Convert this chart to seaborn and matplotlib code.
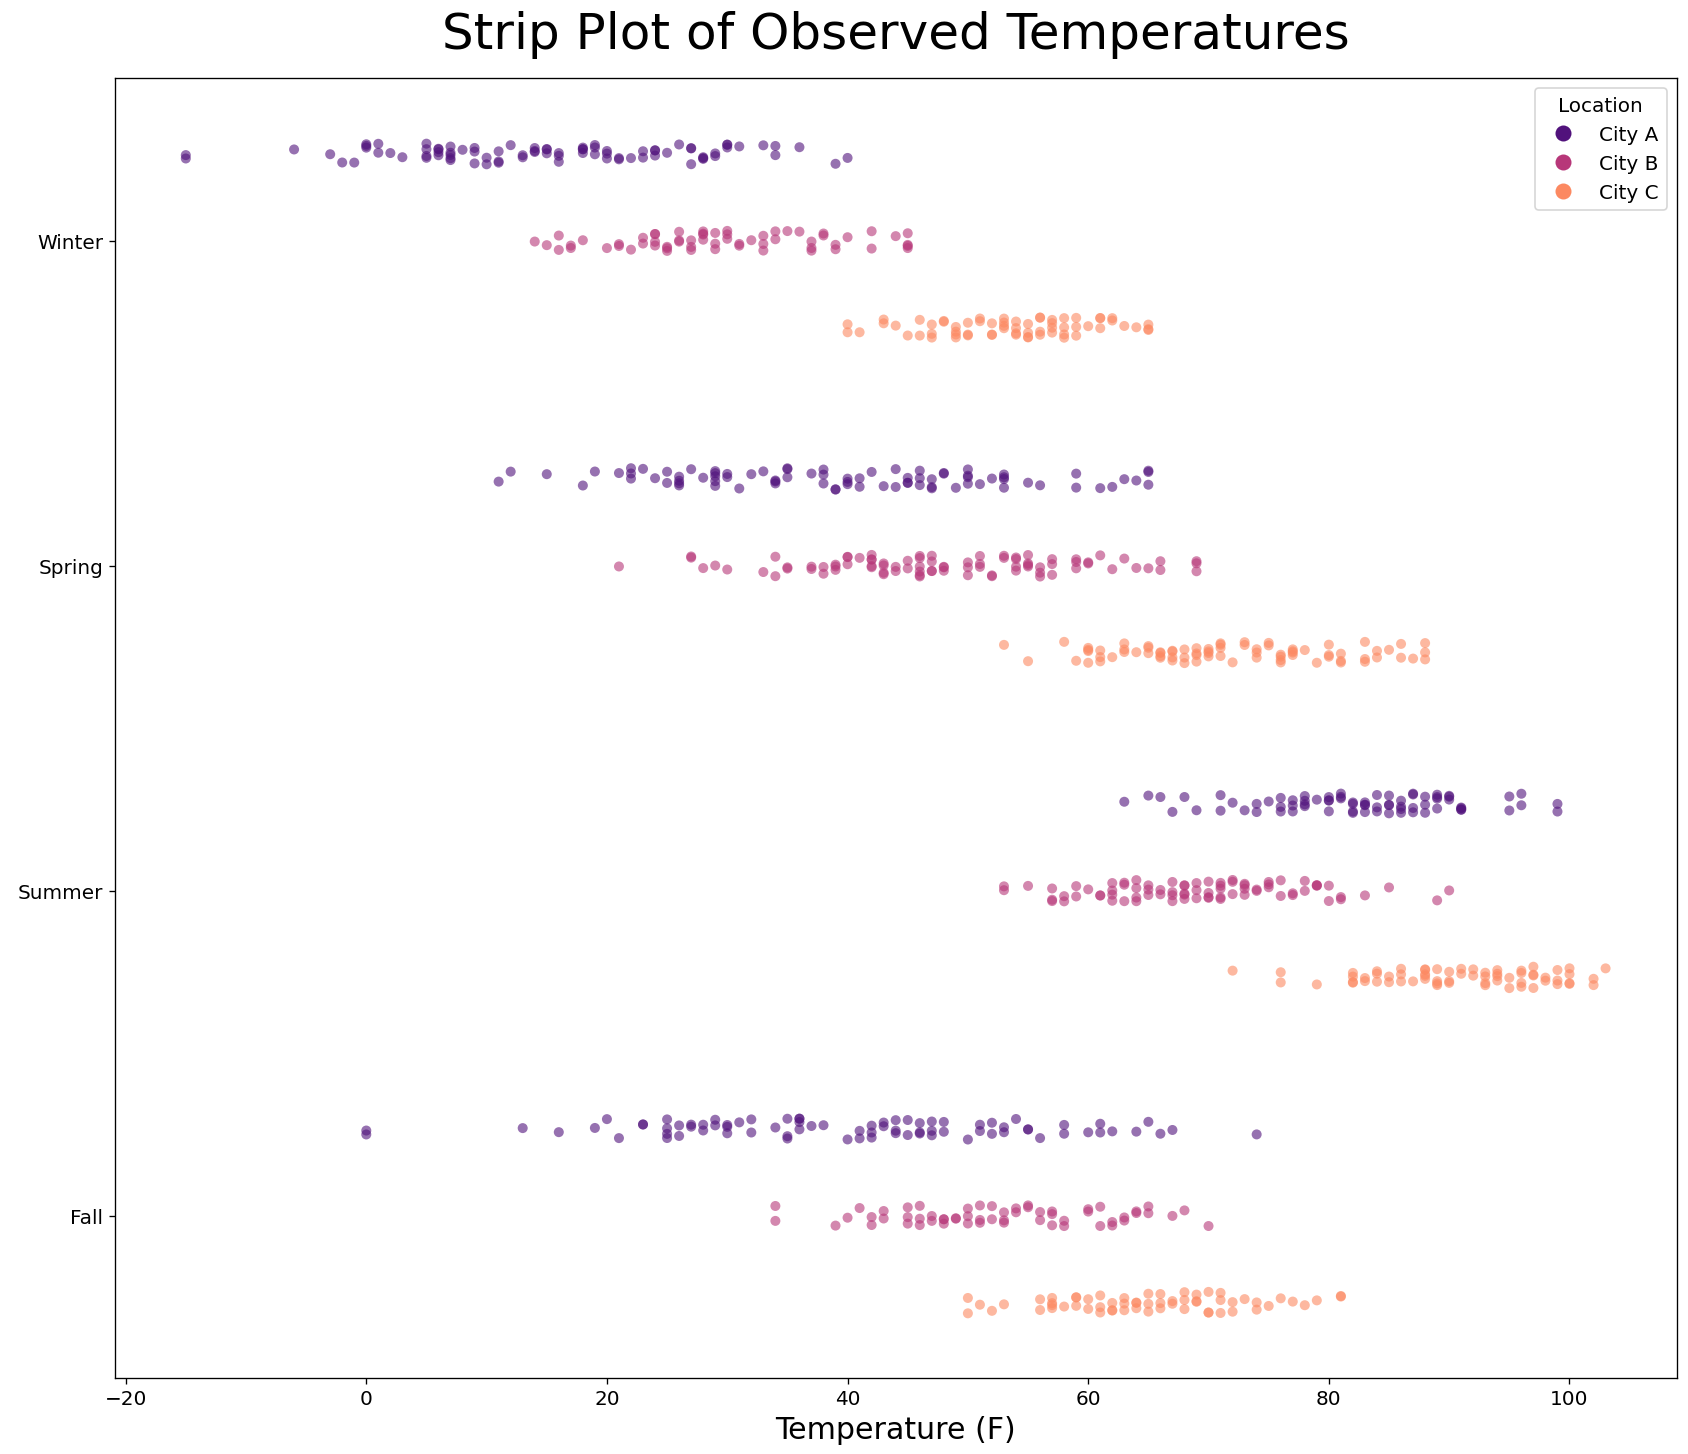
import numpy as np
import pandas as pd
import matplotlib
matplotlib.use("Agg")
import matplotlib.pyplot as plt
import seaborn as sns

seasons = ["Winter", "Spring", "Summer", "Fall"]
cities = ["City A", "City B", "City C"]

winter_a = [-15, -15, -6, -3, -2, -1, 0, 0, 0, 1, 1, 2, 3, 5, 5, 5, 5, 6, 6, 6, 6, 7, 7, 7, 7, 7, 8,
            9, 9, 9, 10, 10, 11, 11, 11, 12, 13, 13, 14, 14, 14, 15, 15, 15, 16, 16, 16, 18, 18, 18, 18,
            19, 19, 19, 20, 20, 20, 21, 21, 22, 23, 23, 24, 24, 24, 25, 26, 27, 27, 27, 28, 28, 28, 29,
            29, 30, 30, 30, 31, 33, 34, 34, 36, 39, 40]
winter_b = [14, 15, 16, 16, 17, 17, 18, 20, 21, 21, 22, 23, 23, 24, 24, 24, 24, 25, 25, 25, 26, 26, 26,
            27, 27, 27, 28, 28, 28, 28, 29, 29, 29, 30, 30, 30, 31, 31, 32, 33, 33, 33, 34, 34, 35, 36,
            37, 37, 37, 38, 38, 39, 39, 40, 42, 42, 44, 45, 45, 45, 45]
winter_c = [40, 40, 41, 43, 43, 44, 45, 46, 46, 47, 47, 47, 48, 48, 49, 49, 49, 49, 50, 50, 50, 51, 51,
            52, 52, 52, 53, 53, 53, 53, 54, 54, 54, 54, 55, 55, 55, 55, 56, 56, 56, 56, 57, 57, 57, 57,
            58, 58, 58, 58, 59, 59, 59, 60, 61, 61, 61, 62, 62, 63, 64, 65, 65, 65]
spring_a = [11, 12, 15, 18, 19, 21, 22, 22, 22, 23, 24, 25, 25, 26, 26, 26, 26, 27, 28, 29, 29, 29, 29,
            29, 30, 30, 31, 32, 33, 34, 34, 34, 35, 35, 35, 37, 38, 38, 38, 39, 39, 40, 40, 40, 41, 41,
            42, 43, 44, 44, 45, 45, 45, 46, 46, 46, 47, 47, 47, 48, 48, 49, 50, 50, 50, 50, 51, 52, 53,
            53, 53, 53, 55, 56, 59, 59, 61, 62, 63, 64, 65, 65, 65]
spring_b = [21, 27, 27, 28, 29, 30, 33, 34, 34, 35, 35, 37, 37, 38, 38, 39, 39, 39, 40, 40, 40, 41, 42,
            42, 42, 42, 42, 43, 43, 43, 43, 44, 44, 45, 45, 46, 46, 46, 46, 46, 46, 47, 47, 47, 47, 48,
            48, 48, 50, 50, 50, 51, 51, 51, 52, 52, 53, 53, 54, 54, 54, 54, 55, 55, 55, 55, 56, 56, 56,
            57, 57, 57, 59, 59, 59, 60, 60, 61, 62, 63, 64, 65, 66, 66, 69, 69, 69]
spring_c = [53, 55, 58, 59, 60, 60, 60, 60, 61, 61, 61, 62, 63, 63, 63, 64, 65, 65, 65, 66, 66, 66, 66,
            67, 67, 67, 67, 68, 68, 68, 69, 69, 69, 69, 70, 70, 70, 70, 71, 71, 71, 71, 72, 73, 73, 74,
            74, 74, 75, 75, 76, 76, 76, 76, 77, 77, 77, 77, 78, 79, 80, 80, 80, 81, 81, 81, 83, 83, 83,
            84, 84, 85, 86, 86, 87, 88, 88, 88]
summer_a = [63, 65, 66, 67, 68, 69, 71, 71, 72, 73, 74, 74, 75, 76, 76, 76, 77, 77, 77, 78, 78, 78, 78,
            79, 80, 80, 80, 80, 81, 81, 81, 82, 82, 82, 82, 83, 83, 83, 83, 84, 84, 84, 85, 85, 85, 85,
            86, 86, 86, 86, 87, 87, 87, 87, 88, 88, 88, 89, 89, 89, 89, 90, 90, 90, 91, 91, 91, 91, 95,
            95, 96, 96, 99, 99]
summer_b = [53, 53, 55, 57, 57, 57, 58, 58, 59, 59, 60, 61, 61, 62, 62, 62, 62, 63, 63, 63, 64, 64, 64,
            64, 65, 65, 65, 66, 66, 67, 67, 67, 67, 68, 68, 68, 68, 68, 69, 69, 69, 70, 70, 70, 70, 71,
            71, 71, 71, 71, 72, 72, 72, 73, 73, 73, 73, 74, 74, 75, 75, 75, 76, 76, 77, 77, 78, 78, 79,
            79, 79, 80, 80, 81, 81, 83, 85, 89, 90]
summer_c = [72, 76, 76, 79, 82, 82, 82, 82, 83, 83, 84, 84, 84, 85, 85, 86, 86, 86, 87, 88, 88, 88, 88,
            88, 89, 89, 89, 89, 90, 90, 90, 91, 91, 92, 92, 93, 93, 93, 93, 94, 94, 94, 94, 95, 95, 96,
            96, 96, 96, 97, 97, 97, 97, 98, 98, 99, 99, 99, 100, 100, 100, 100, 102, 102, 103]
fall_a = [0, 0, 13, 16, 19, 20, 21, 23, 23, 25, 25, 25, 25, 26, 26, 27, 27, 28, 28, 29, 29, 30, 30, 30,
          31, 32, 32, 34, 35, 35, 35, 36, 36, 36, 36, 37, 38, 40, 41, 41, 42, 42, 42, 43, 43, 44, 44, 44,
          45, 45, 46, 46, 46, 47, 47, 47, 48, 48, 50, 51, 51, 52, 52, 53, 53, 54, 55, 55, 56, 58, 58,
          60, 61, 61, 62, 64, 65, 66, 67, 74]
fall_b = [34, 34, 39, 40, 41, 42, 42, 43, 43, 45, 45, 45, 46, 46, 46, 47, 47, 48, 48, 48, 49, 49, 50,
          50, 50, 51, 51, 51, 52, 52, 53, 53, 53, 54, 54, 55, 55, 56, 56, 57, 57, 57, 58, 58, 60, 60,
          61, 61, 62, 62, 63, 63, 64, 64, 65, 65, 67, 68, 70]
fall_c = [50, 50, 51, 52, 53, 56, 56, 57, 57, 57, 57, 58, 59, 59, 59, 60, 60, 61, 61, 61, 62, 62, 62,
          63, 63, 63, 64, 64, 64, 65, 65, 65, 66, 66, 66, 67, 67, 68, 68, 68, 69, 69, 69, 70, 70, 70,
          71, 71, 71, 72, 72, 73, 74, 74, 75, 76, 77, 78, 79, 81, 81]

groups = {
    ("Winter", "City A"): winter_a, ("Winter", "City B"): winter_b, ("Winter", "City C"): winter_c,
    ("Spring", "City A"): spring_a, ("Spring", "City B"): spring_b, ("Spring", "City C"): spring_c,
    ("Summer", "City A"): summer_a, ("Summer", "City B"): summer_b, ("Summer", "City C"): summer_c,
    ("Fall", "City A"): fall_a, ("Fall", "City B"): fall_b, ("Fall", "City C"): fall_c,
}
rows = []
for (season, city), vals in groups.items():
    for v in vals:
        rows.append({"Season": season, "Location": city, "Temperature": v})
df = pd.DataFrame(rows)

np.random.seed(3)
fig, ax = plt.subplots(figsize=(14.07, 12.12), dpi=120)
sns.stripplot(data=df, x="Temperature", y="Season", hue="Location",
              order=seasons, hue_order=cities, palette="magma",
              dodge=True, jitter=True, alpha=0.6, size=6, ax=ax)
ax.set_title("Strip Plot of Observed Temperatures", fontsize=30, pad=18)
ax.set_xlabel("Temperature (F)", fontsize=18)
ax.set_ylabel("")
ax.tick_params(axis="both", labelsize=12)
leg = ax.legend(title="Location", loc="upper right", fontsize=12,
                title_fontsize=12, markerscale=1.6)
for h in leg.legend_handles:
    h.set_alpha(1)
fig.subplots_adjust(left=0.068, right=0.993, top=0.946, bottom=0.052)
fig.savefig("out.png", dpi=120)
